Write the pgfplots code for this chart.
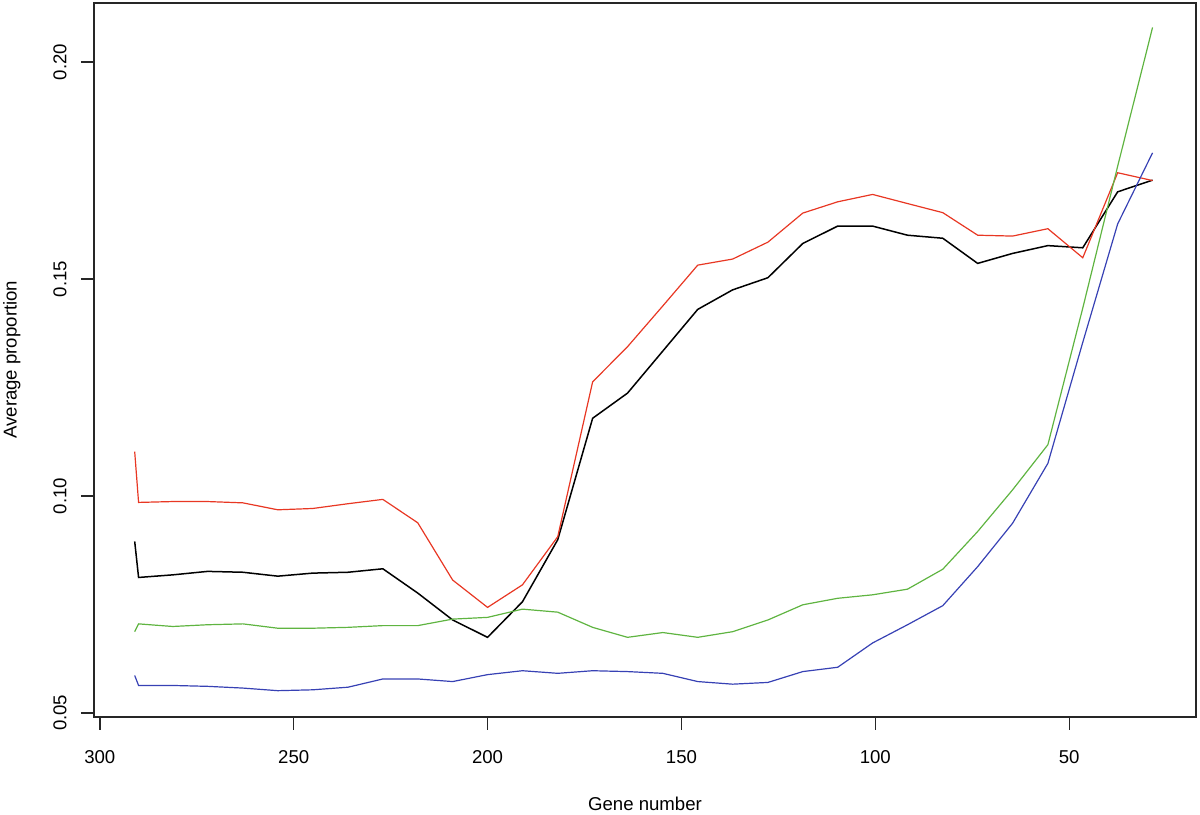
\documentclass[border=0pt]{standalone}
\usepackage{pgfplots}
\pgfplotsset{compat=1.18}
\usepackage{fontspec}
\setmainfont{Liberation Sans}
\definecolor{rred}{RGB}{232,55,35}
\definecolor{rgreen}{RGB}{95,180,65}
\definecolor{rblue}{RGB}{55,65,180}

\pgfplotstableread{
x      black   red     green   blue
291.0  0.0895  0.1102  0.0687  0.0586
290.0  0.0812  0.0985  0.0705  0.0563
281.2  0.0818  0.0987  0.0699  0.0563
272.2  0.0826  0.0987  0.0703  0.0561
263.1  0.0824  0.0984  0.0705  0.0557
254.1  0.0815  0.0968  0.0695  0.0551
245.1  0.0822  0.0971  0.0695  0.0553
236.0  0.0824  0.0982  0.0697  0.0559
227.0  0.0832  0.0992  0.0701  0.0578
218.0  0.0776  0.0938  0.0701  0.0578
209.0  0.0714  0.0806  0.0716  0.0572
200.0  0.0674  0.0743  0.0720  0.0588
191.0  0.0756  0.0795  0.0739  0.0597
181.9  0.0899  0.0906  0.0732  0.0591
172.9  0.1179  0.1263  0.0697  0.0597
163.9  0.1237  0.1344  0.0674  0.0595
154.8  0.1334  0.1438  0.0685  0.0591
145.8  0.1430  0.1532  0.0674  0.0572
136.8  0.1475  0.1546  0.0687  0.0566
127.7  0.1503  0.1585  0.0714  0.0570
118.7  0.1582  0.1652  0.0749  0.0595
109.7  0.1622  0.1678  0.0764  0.0605
100.7  0.1622  0.1695  0.0772  0.0661
91.7   0.1601  0.1674  0.0785  0.0703
82.6   0.1594  0.1653  0.0831  0.0747
73.6   0.1536  0.1601  0.0918  0.0837
64.6   0.1559  0.1599  0.1014  0.0937
55.5   0.1577  0.1616  0.1118  0.1075
46.5   0.1572  0.1549  0.1433  0.1354
37.5   0.1701  0.1745  0.1760  0.1627
28.5   0.1728  0.1727  0.2080  0.1791
}\datatable

\begin{document}
\begin{tikzpicture}
\begin{axis}[
    name=ax,
    scale only axis,
    width=551pt, height=357pt,
    x dir=reverse,
    xmin=17.3, xmax=301.5,
    ymin=0.0491, ymax=0.2137,
    xtick={50,100,150,200,250,300},
    ytick={0.05,0.10,0.15,0.20},
    yticklabels={0.05,0.10,0.15,0.20},
    /pgf/number format/assume math mode=true,
    tick pos=left,
    tick align=outside,
    major tick length=6.5pt,
    every tick/.style={black!85, line width=0.7pt},
    axis line style={black!85, line width=0.9pt},
    font=\fontsize{9.3}{11}\selectfont,
    xticklabel style={inner sep=0pt, anchor=north},
    yticklabel style={inner sep=0pt, rotate=90, anchor=south},
    xticklabel shift=10pt,
    yticklabel shift=7pt,
    xlabel={Gene number},
    ylabel={Average proportion},
    every axis x label/.style={at={(axis description cs:0.5,0)}, anchor=north, yshift=-40pt, inner sep=0pt},
    every axis y label/.style={at={(axis description cs:0,0.5)}, rotate=90, anchor=south, yshift=36.5pt, inner sep=0pt},
    clip=true,
]
\addplot[black, line width=0.75pt] table[x=x, y=black] {\datatable};
\addplot[rred, line width=0.6pt] table[x=x, y=red] {\datatable};
\addplot[rgreen, line width=0.6pt] table[x=x, y=green] {\datatable};
\addplot[rblue, line width=0.6pt] table[x=x, y=blue] {\datatable};
\end{axis}
\path ([xshift=-47pt,yshift=-49pt]ax.south west) rectangle ([xshift=2pt,yshift=1.35pt]ax.north east);
\end{tikzpicture}
\end{document}
